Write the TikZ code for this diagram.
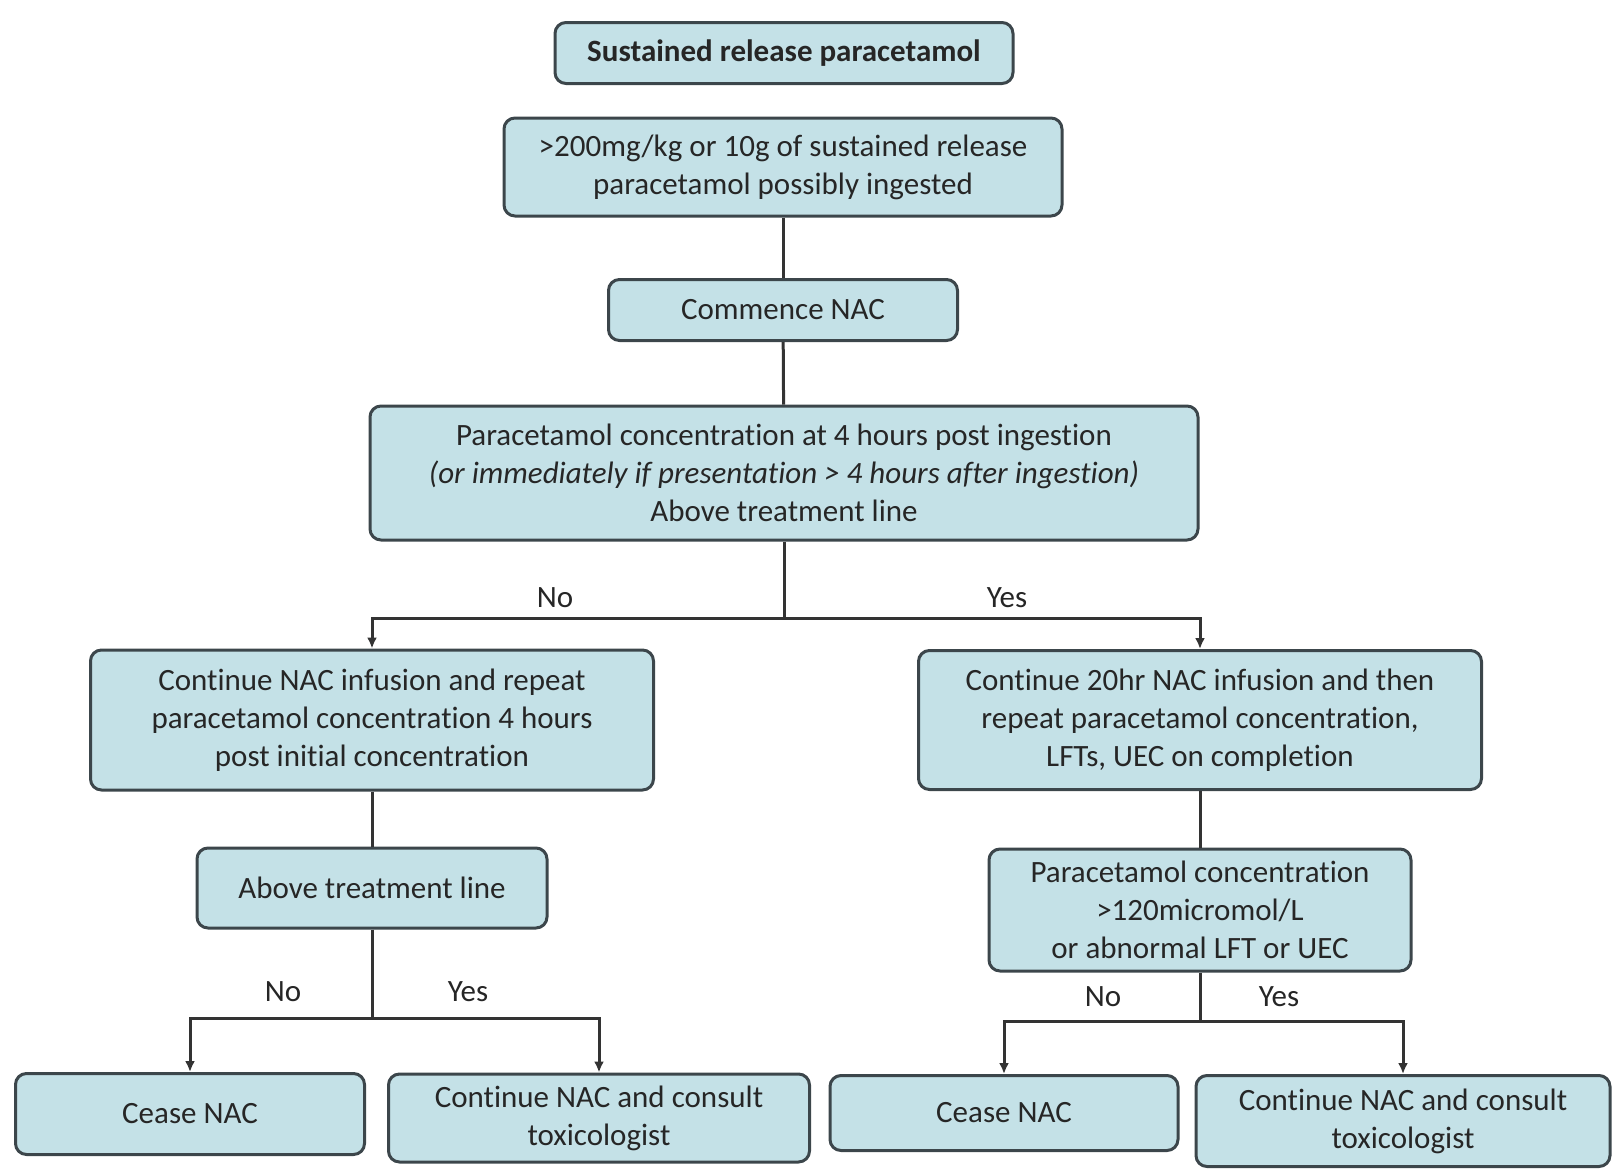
\documentclass[tikz,border=0pt]{standalone}
\usepackage{fontspec}
\setmainfont[Ligatures=NoCommon]{Carlito}
\usepackage{xcolor}
\usepackage{tikz}
\usetikzlibrary{shapes,arrows.meta,positioning}

\definecolor{boxfill}{RGB}{196,225,231}
\definecolor{boxline}{RGB}{60,70,75}

\begin{document}
\begin{tikzpicture}[
    x=1pt, y=-1pt,
    box/.style={rectangle, rounded corners=11pt, draw=boxline, line width=3pt, fill=boxfill, align=center, inner sep=0pt, font=\fontsize{31}{38}\selectfont, text=black!85},
    lbl/.style={font=\fontsize{31}{34}\selectfont, text=black!85},
    link/.style={line width=3pt, draw=black!80},
    arrow/.style={link, -{Latex[length=11pt,width=10pt]}}
]
    \useasboundingbox (0,0) rectangle (1612,1171);

    % Top of the chart
    \node[box, minimum width=458pt, minimum height=61pt] (title) at (784,53) {\textbf{Sustained release paracetamol}};
    \node[box, minimum width=558pt, minimum height=98pt] (dose) at (783,167) {>200mg/kg or 10g of sustained release\\paracetamol possibly ingested};
    \node[box, minimum width=349pt, minimum height=61pt] (nac) at (783,310) {Commence NAC};
    \node[box, minimum width=828pt, minimum height=134pt] (conc) at (784,473) {Paracetamol concentration at 4 hours post ingestion\\\textit{(or immediately if presentation > 4 hours after ingestion)}\\Above treatment line};

    % Second level
    \node[box, minimum width=563pt, minimum height=140pt] (contL) at (372,720) {Continue NAC infusion and repeat\\paracetamol concentration 4 hours\\post initial concentration};
    \node[box, minimum width=563pt, minimum height=139pt] (contR) at (1200,720) {Continue 20hr NAC infusion and then\\repeat paracetamol concentration,\\LFTs, UEC on completion};

    % Third level
    \node[box, minimum width=350pt, minimum height=80pt] (aboveL) at (372,888) {Above treatment line};
    \node[box, minimum width=422pt, minimum height=122pt] (paraR) at (1200,910) {Paracetamol concentration\\>120micromol/L\\or abnormal LFT or UEC};

    % Outcomes
    \node[box, minimum width=349pt, minimum height=81pt] (ceaseL) at (190,1114) {Cease NAC};
    \node[box, minimum width=421pt, minimum height=88pt] (consultL) at (599,1118) {Continue NAC and consult\\toxicologist};
    \node[box, minimum width=348pt, minimum height=75pt] (ceaseR) at (1004,1113) {Cease NAC};
    \node[box, minimum width=414pt, minimum height=91pt] (consultR) at (1403,1121) {Continue NAC and consult\\toxicologist};

    % Split points
    \coordinate (splitA) at (784,618);
    \coordinate (splitL) at (372,1018);
    \coordinate (splitR) at (1200,1021);

    % Labels
    \node[lbl] (noA) at (555,598) {No};
    \node[lbl] (yesA) at (1007,598) {Yes};
    \node[lbl] (noL) at (283,992) {No};
    \node[lbl] (yesL) at (468,992) {Yes};
    \node[lbl] (noR) at (1103,997) {No};
    \node[lbl] (yesR) at (1279,997) {Yes};

    % Connectors
    \draw[link] (dose) -- (nac);
    \draw[link] (nac) -- (conc);
    \draw[link] (conc) -- (splitA);
    \draw[arrow] (splitA) -| (contL);
    \draw[arrow] (splitA) -| (contR);
    \draw[link] (contL) -- (aboveL);
    \draw[link] (contR) -- (paraR);
    \draw[link] (aboveL) -- (splitL);
    \draw[arrow] (splitL) -| (ceaseL);
    \draw[arrow] (splitL) -| (consultL);
    \draw[link] (paraR) -- (splitR);
    \draw[arrow] (splitR) -| (ceaseR);
    \draw[arrow] (splitR) -| (consultR);

\end{tikzpicture}
\end{document}
